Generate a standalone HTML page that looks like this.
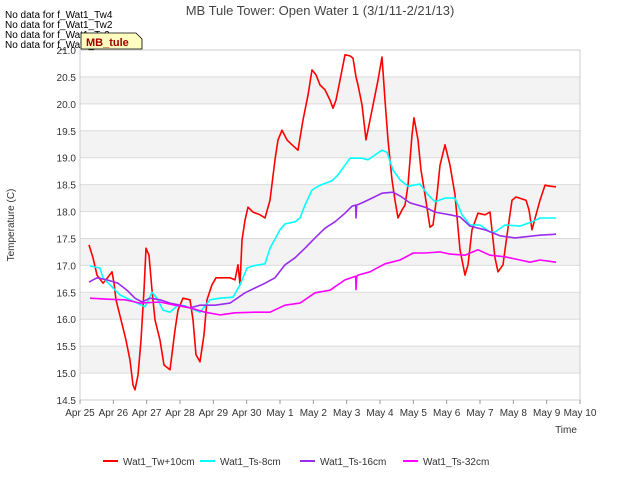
<!DOCTYPE html>
<html><head><meta charset="utf-8"><style>
body{margin:0;background:#fff;font-family:"Liberation Sans",sans-serif;}
svg text{font-family:"Liberation Sans",sans-serif;}
</style></head><body>
<svg id="chart" width="640" height="480" xmlns="http://www.w3.org/2000/svg">
<g id="bands"></g>
<g id="grid"></g>
<g id="series"></g>
<g id="axes"></g>
<text x="320" y="15" text-anchor="middle" font-size="13" fill="#444">MB Tule Tower: Open Water 1 (3/1/11-2/21/13)</text>
<text x="14" y="225" text-anchor="middle" font-size="10" fill="#333" transform="rotate(-90 14 225)">Temperature (C)</text>
<text x="566" y="433" text-anchor="middle" font-size="10" fill="#333">Time</text>
<g font-size="10" fill="#000">
<text x="5" y="18">No data for f_Wat1_Tw4</text>
<text x="5" y="28">No data for f_Wat1_Tw2</text>
<text x="5" y="38">No data for f_Wat1_Ts2</text>
<text x="5" y="48">No data for f_Wat1_Ts4</text>
</g>
<g>
<path d="M81,49 L81,33 L136,33 L142,39 L142,49 Z" fill="#ffffc0" stroke="#000" stroke-width="0.8"/>
<text x="86" y="46" font-size="11" font-weight="bold" fill="#a00000">MB_tule</text>
</g>
<g id="legend"></g>
</svg>
<script>
const xTickLabels=["Apr 25","Apr 26","Apr 27","Apr 28","Apr 29","Apr 30","May 1","May 2","May 3","May 4","May 5","May 6","May 7","May 8","May 9","May 10"];
const yTickValues=[14.5,15.0,15.5,16.0,16.5,17.0,17.5,18.0,18.5,19.0,19.5,20.0,20.5,21.0];
const seriesNames=["Wat1_Tw+10cm","Wat1_Ts-8cm","Wat1_Ts-16cm","Wat1_Ts-32cm"];
const seriesColors=["#ff0000","#00ffff","#9a2cf0","#ff00ff"];
const twDays=[0.27,0.39,0.51,0.69,0.84,0.96,1.02,1.08,1.23,1.38,1.5,1.59,1.65,1.74,1.83,1.92,1.98,2.07,2.16,2.25,2.4,2.52,2.7,2.85,2.94,3.09,3.3,3.39,3.48,3.6,3.72,3.81,3.96,4.08,4.5,4.65,4.74,4.8,4.86,4.95,5.04,5.19,5.4,5.55,5.7,5.85,5.94,6.06,6.21,6.36,6.54,6.69,6.84,6.96,7.08,7.2,7.35,7.5,7.59,7.68,7.8,7.95,8.1,8.19,8.28,8.34,8.46,8.58,8.7,8.85,8.94,9.06,9.15,9.24,9.36,9.45,9.54,9.66,9.75,9.84,9.96,10.02,10.14,10.23,10.35,10.5,10.59,10.71,10.8,10.95,11.1,11.25,11.4,11.55,11.64,11.76,11.94,12.15,12.3,12.45,12.54,12.69,12.81,12.96,13.08,13.38,13.47,13.56,13.68,13.8,13.95,14.1,14.28];
const twVals=[17.38,17.14,16.82,16.67,16.78,16.88,16.67,16.36,15.99,15.61,15.24,14.78,14.69,14.96,15.61,16.54,17.32,17.19,16.54,15.99,15.61,15.15,15.06,15.8,16.17,16.39,16.36,15.99,15.34,15.21,15.71,16.36,16.64,16.77,16.77,16.73,17.01,16.64,17.47,17.84,18.08,17.99,17.94,17.88,18.21,18.96,19.33,19.51,19.33,19.24,19.14,19.7,20.16,20.63,20.54,20.35,20.26,20.07,19.92,20.07,20.44,20.91,20.89,20.85,20.5,20.35,19.98,19.33,19.7,20.16,20.44,20.87,20.07,19.33,18.59,18.21,17.88,18.03,18.12,18.49,19.42,19.74,19.33,18.77,18.31,17.71,17.75,18.31,18.86,19.24,18.86,18.31,17.29,16.82,17.01,17.66,17.97,17.94,17.99,17.14,16.88,17.01,17.56,18.21,18.27,18.21,18.03,17.66,17.94,18.21,18.49,18.47,18.46];
const ts8Days=[0.3,0.6,0.69,0.9,1.2,1.95,2.16,2.31,2.49,2.7,2.94,3.15,3.45,3.6,3.9,4.2,4.59,4.8,5.01,5.19,5.55,5.7,6.0,6.15,6.45,6.6,6.75,6.96,7.2,7.56,7.74,7.95,8.1,8.46,8.64,8.85,9.06,9.21,9.39,9.6,9.84,10.2,10.44,10.65,10.95,11.25,11.46,11.7,12.0,12.3,12.45,12.75,13.2,13.56,13.8,14.28];
const ts8Vals=[16.99,16.95,16.77,16.64,16.45,16.23,16.5,16.39,16.17,16.13,16.26,16.25,16.17,16.13,16.36,16.39,16.41,16.64,16.95,16.99,17.03,17.32,17.66,17.77,17.81,17.88,18.12,18.4,18.49,18.57,18.68,18.86,18.99,18.99,18.96,19.05,19.14,19.1,18.77,18.59,18.47,18.51,18.31,18.18,18.25,18.25,17.94,17.75,17.75,17.62,17.62,17.75,17.73,17.81,17.88,17.88];
const ts16Days=[0.27,0.51,0.81,1.14,1.41,1.65,1.86,2.1,2.4,2.7,3.0,3.3,3.6,4.05,4.5,4.95,5.25,5.55,5.85,6.15,6.45,6.75,7.05,7.35,7.65,7.95,8.16,8.27,8.28,8.3,8.46,8.76,9.06,9.39,9.6,9.9,10.35,10.65,11.1,11.4,11.7,12.15,12.6,13.05,13.35,13.8,14.28];
const ts16Vals=[16.69,16.77,16.73,16.67,16.54,16.39,16.32,16.39,16.36,16.3,16.26,16.21,16.26,16.26,16.3,16.49,16.58,16.67,16.77,17.01,17.14,17.32,17.51,17.69,17.81,17.97,18.1,18.12,17.88,18.12,18.16,18.25,18.34,18.36,18.29,18.16,18.08,17.99,17.94,17.9,17.73,17.66,17.55,17.51,17.53,17.56,17.58];
const ts32Days=[0.3,0.9,1.35,1.8,2.4,2.85,3.3,3.75,4.2,4.65,5.25,5.7,6.15,6.6,7.05,7.5,7.95,8.27,8.28,8.3,8.34,8.7,9.15,9.6,10.0,10.35,10.8,11.1,11.55,11.94,12.3,12.75,13.2,13.5,13.8,14.28];
const ts32Vals=[16.39,16.37,16.36,16.3,16.32,16.26,16.21,16.13,16.08,16.12,16.13,16.13,16.26,16.3,16.49,16.54,16.73,16.8,16.55,16.8,16.82,16.88,17.03,17.1,17.23,17.23,17.25,17.21,17.19,17.29,17.19,17.16,17.1,17.06,17.1,17.06];

const L=80,R=580,T=50,B=400,yMin=14.5,yMax=21.0,dMax=15;
const xs=d=>L+(d/dMax)*(R-L);
const ys=v=>B-(v-yMin)/(yMax-yMin)*(B-T);
const NS="http://www.w3.org/2000/svg";
function mk(tag,attrs,parent){const e=document.createElementNS(NS,tag);for(const k in attrs)e.setAttribute(k,attrs[k]);parent.appendChild(e);return e;}
const bands=document.getElementById('bands'),grid=document.getElementById('grid'),axes=document.getElementById('axes'),series=document.getElementById('series'),legend=document.getElementById('legend');
mk('rect',{x:L,y:T,width:R-L,height:B-T,fill:'#fff'},bands);
for(let i=0;i<yTickValues.length-1;i++){
  const v=yTickValues[i];
  if(i%2===1){const r=mk('rect',{x:L,y:ys(yTickValues[i+1]),width:R-L,height:ys(v)-ys(yTickValues[i+1]),fill:'#f3f3f3'},bands);
  
  }
}
yTickValues.forEach(v=>{
  const l=mk('line',{x1:L,x2:R,y1:ys(v),y2:ys(v),stroke:'#dcdcdc','stroke-width':1},grid);
  
  
  const t=mk('text',{x:L-4,y:ys(v)+4,'text-anchor':'end','font-size':10,fill:'#333'},axes);
  t.textContent=v.toFixed(1);
  
  
});
mk('rect',{x:L,y:T,width:R-L,height:B-T,fill:'none',stroke:'#ccc'},axes);
xTickLabels.forEach((s,i)=>{
  const x=xs(i);
  mk('line',{x1:x,x2:x,y1:B,y2:B+4,stroke:'#999'},axes);
  const t=mk('text',{x:x,y:B+16,'text-anchor':'middle','font-size':10,fill:'#333'},axes);
  t.textContent=s;
  
  
});
const all=[[twDays,twVals],[ts8Days,ts8Vals],[ts16Days,ts16Vals],[ts32Days,ts32Vals]];
all.forEach((s,k)=>{
  const pts=s[0].map((d,i)=>xs(d).toFixed(1)+','+ys(s[1][i]).toFixed(1)).join(' ');
  const p=mk('polyline',{points:pts,fill:'none',stroke:seriesColors[k],'stroke-width':1.6,'stroke-linejoin':'round'},series);
  
  
});
const lx=[103,200,300,403];
seriesNames.forEach((n,k)=>{
  const g=mk('g',{},legend);
  
  
  mk('line',{x1:lx[k],x2:lx[k]+15,y1:461,y2:461,stroke:seriesColors[k],'stroke-width':2},g);
  const t=mk('text',{x:lx[k]+20,y:465,'font-size':10,fill:'#333'},g);
  t.textContent=n;
});
</script>
</body></html>
